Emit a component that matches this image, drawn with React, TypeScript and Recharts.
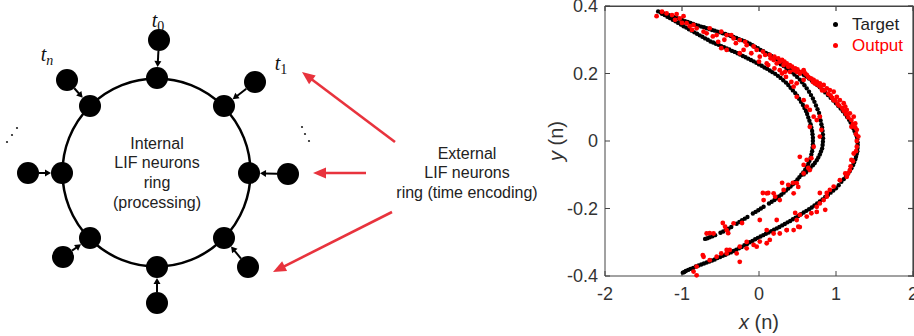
import React from 'react';
import {
  ScatterChart, Scatter, XAxis, YAxis, ReferenceLine, ReferenceDot, Label,
} from 'recharts';

// ---- left diagram (units = pixels of the diagram panel) ----
const ringCenter = [156.5, 172.5];
const ringRadius = 94;
const ringNodes = [[157, 78], [224, 106], [249, 173], [224, 238], [157, 267], [90, 238], [62, 173], [90, 106]];
const outerNodes = [[159, 40], [255, 82], [288, 174], [248, 267], [157, 303], [63, 257], [28, 173], [67, 80]];
const ellipsisDots = [[7, 142], [12, 135], [17, 128], [302, 127], [305, 134], [309, 141]];
const redArrows = [[[395, 142], [302, 72]], [[366, 173], [313, 173]], [[392, 212], [273, 272]]];

// ---- right scatter ----
const xTicks = [-2, -1, 0, 1, 2];
const yTicks = [-0.4, -0.2, 0, 0.2, 0.4];
const boxEdge = [[-2, 0.4], [2, 0.4], [2, -0.4]];

const targetOuter = [
  [-1.31, 0.384], [-1.275, 0.381], [-1.24, 0.378], [-1.205, 0.376], [-1.17, 0.373], [-1.135, 0.370], [-1.10, 0.367],
  [-1.065, 0.364], [-1.03, 0.361], [-0.995, 0.358], [-0.96, 0.355], [-0.925, 0.353], [-0.89, 0.350], [-0.855, 0.347],
  [-0.82, 0.344], [-0.785, 0.342], [-0.75, 0.339], [-0.715, 0.337], [-0.68, 0.334], [-0.645, 0.332], [-0.61, 0.329],
  [-0.575, 0.327], [-0.54, 0.324], [-0.505, 0.322], [-0.47, 0.319], [-0.435, 0.317], [-0.40, 0.314], [-0.365, 0.311],
  [-0.33, 0.308], [-0.295, 0.305], [-0.26, 0.302], [-0.225, 0.299], [-0.19, 0.296], [-0.155, 0.292], [-0.12, 0.288],
  [-0.085, 0.284], [-0.05, 0.279], [-0.015, 0.275], [0.02, 0.270], [0.055, 0.266], [0.09, 0.261], [0.125, 0.257],
  [0.16, 0.252], [0.195, 0.248], [0.23, 0.243], [0.265, 0.239], [0.30, 0.234], [0.335, 0.229], [0.37, 0.224],
  [0.405, 0.220], [0.44, 0.215], [0.475, 0.210], [0.51, 0.205], [0.545, 0.201], [0.58, 0.196], [0.615, 0.191],
  [0.65, 0.185], [0.685, 0.179], [0.72, 0.172], [0.755, 0.166], [0.79, 0.159], [0.825, 0.152], [0.86, 0.144],
  [0.895, 0.136], [0.93, 0.128], [0.965, 0.120], [1.00, 0.112], [1.03, 0.104], [1.06, 0.096], [1.09, 0.088],
  [1.12, 0.079], [1.145, 0.071], [1.17, 0.063], [1.19, 0.055], [1.21, 0.046], [1.225, 0.038], [1.24, 0.030],
  [1.255, 0.022], [1.27, 0.013], [1.275, 0.005], [1.28, -0.004], [1.282, -0.012], [1.28, -0.021], [1.277, -0.030],
  [1.27, -0.038], [1.26, -0.047], [1.25, -0.055], [1.235, -0.064], [1.22, -0.072], [1.20, -0.081], [1.18, -0.089],
  [1.155, -0.097], [1.13, -0.105], [1.10, -0.113], [1.07, -0.121], [1.035, -0.131], [1.00, -0.140], [0.965, -0.147],
  [0.93, -0.153], [0.895, -0.160], [0.86, -0.166], [0.825, -0.173], [0.79, -0.179], [0.755, -0.185], [0.72, -0.191],
  [0.685, -0.197], [0.65, -0.202], [0.615, -0.207], [0.58, -0.212], [0.545, -0.217], [0.51, -0.222], [0.475, -0.227],
  [0.44, -0.232], [0.405, -0.237], [0.37, -0.241], [0.335, -0.246], [0.30, -0.250], [0.265, -0.255], [0.23, -0.259],
  [0.195, -0.263], [0.16, -0.267], [0.125, -0.271], [0.09, -0.275], [0.055, -0.279], [0.02, -0.283], [-0.015, -0.287],
  [-0.05, -0.291], [-0.085, -0.296], [-0.12, -0.300], [-0.155, -0.305], [-0.19, -0.309], [-0.225, -0.314],
  [-0.26, -0.318], [-0.295, -0.322], [-0.33, -0.326], [-0.365, -0.330], [-0.40, -0.333], [-0.435, -0.337],
  [-0.47, -0.340], [-0.505, -0.344], [-0.54, -0.347], [-0.575, -0.351], [-0.61, -0.354], [-0.645, -0.357],
  [-0.68, -0.360], [-0.715, -0.363], [-0.75, -0.366], [-0.785, -0.369], [-0.82, -0.372], [-0.855, -0.376],
  [-0.89, -0.379], [-0.92, -0.382], [-0.95, -0.385], [-0.97, -0.388], [-0.99, -0.390],
];
const targetInnerA = [
  [-1.26, 0.377], [-1.225, 0.373], [-1.19, 0.368], [-1.155, 0.364], [-1.12, 0.359], [-1.085, 0.355], [-1.05, 0.350],
  [-1.015, 0.345], [-0.98, 0.340], [-0.945, 0.336], [-0.91, 0.331], [-0.875, 0.327], [-0.84, 0.322], [-0.805, 0.318],
  [-0.77, 0.313], [-0.735, 0.309], [-0.70, 0.304], [-0.665, 0.300], [-0.63, 0.295], [-0.595, 0.292], [-0.56, 0.288],
  [-0.525, 0.285], [-0.49, 0.281], [-0.455, 0.278], [-0.42, 0.274], [-0.385, 0.271], [-0.35, 0.267], [-0.315, 0.264],
  [-0.28, 0.260], [-0.245, 0.256], [-0.21, 0.252], [-0.175, 0.248], [-0.14, 0.244], [-0.105, 0.240], [-0.07, 0.236],
  [-0.035, 0.232], [0.00, 0.227], [0.035, 0.223], [0.07, 0.218], [0.105, 0.214], [0.14, 0.209], [0.175, 0.204],
  [0.21, 0.199], [0.245, 0.193], [0.28, 0.187], [0.315, 0.180], [0.35, 0.173], [0.38, 0.166], [0.41, 0.158],
  [0.44, 0.150], [0.47, 0.142], [0.495, 0.134], [0.52, 0.125], [0.545, 0.116], [0.57, 0.107], [0.59, 0.098],
  [0.61, 0.089], [0.625, 0.080], [0.64, 0.070], [0.655, 0.060], [0.67, 0.050], [0.68, 0.040], [0.69, 0.030],
  [0.695, 0.020], [0.70, 0.010], [0.70, 0.000], [0.70, -0.010], [0.695, -0.020], [0.69, -0.030], [0.68, -0.040],
  [0.67, -0.050], [0.655, -0.059], [0.64, -0.068], [0.62, -0.077], [0.60, -0.085], [0.575, -0.093], [0.55, -0.100],
  [0.525, -0.107], [0.50, -0.114], [0.47, -0.121], [0.44, -0.128], [0.41, -0.135], [0.38, -0.141], [0.35, -0.147],
  [0.32, -0.153], [0.29, -0.159], [0.26, -0.164], [0.23, -0.170], [0.20, -0.175], [0.165, -0.180], [0.13, -0.185],
  [0.06, -0.195], [0.025, -0.200], [-0.01, -0.205], [-0.045, -0.210], [-0.08, -0.215], [-0.15, -0.225],
  [-0.185, -0.230], [-0.22, -0.235], [-0.255, -0.240], [-0.29, -0.245], [-0.36, -0.255], [-0.395, -0.260],
  [-0.43, -0.264], [-0.465, -0.268], [-0.50, -0.272], [-0.57, -0.279], [-0.605, -0.282], [-0.64, -0.285],
  [-0.67, -0.288], [-0.70, -0.290],
];
const targetInnerB = [
  [0.25, 0.232], [0.285, 0.227], [0.32, 0.222], [0.355, 0.216], [0.39, 0.210], [0.425, 0.204], [0.46, 0.197],
  [0.495, 0.190], [0.53, 0.182], [0.56, 0.174], [0.59, 0.165], [0.62, 0.156], [0.65, 0.146], [0.675, 0.136],
  [0.70, 0.126], [0.72, 0.116], [0.74, 0.105], [0.76, 0.094], [0.78, 0.083], [0.79, 0.072], [0.80, 0.061],
  [0.81, 0.050], [0.82, 0.040], [0.825, 0.030], [0.83, 0.019], [0.832, 0.008], [0.83, -0.002], [0.826, -0.012],
  [0.82, -0.022], [0.805, -0.031], [0.79, -0.040], [0.77, -0.049], [0.75, -0.057], [0.725, -0.065], [0.70, -0.072],
  [0.67, -0.079], [0.64, -0.086], [0.61, -0.093], [0.58, -0.099],
];
const outputPts = [
  [-1.33, 0.370], [-1.26, 0.383], [-1.20, 0.378], [-1.13, 0.373], [-1.07, 0.376], [-1.03, 0.363], [-0.98, 0.370],
  [-1.09, 0.359], [-0.94, 0.349], [-0.85, 0.344], [-0.81, 0.334], [-0.87, 0.329], [-0.72, 0.324], [-0.68, 0.319],
  [-0.64, 0.334], [-0.55, 0.314], [-0.49, 0.324], [-0.42, 0.314], [-0.36, 0.314], [-0.33, 0.304], [-0.53, 0.294],
  [-0.49, 0.275], [-0.42, 0.270], [-0.25, 0.299], [-0.18, 0.294], [-0.16, 0.284], [-0.07, 0.280], [-0.03, 0.270],
  [-0.25, 0.260], [0.01, 0.250], [0.14, 0.255], [0.19, 0.240], [0.10, 0.230], [0.23, 0.230], [0.27, 0.235],
  [0.32, 0.225], [0.36, 0.230], [0.38, 0.220], [0.27, 0.210], [0.34, 0.205], [0.40, 0.205], [0.45, 0.210],
  [0.49, 0.205], [0.53, 0.200], [0.58, 0.210], [0.62, 0.196], [0.58, 0.181], [0.66, 0.186], [0.71, 0.181],
  [0.75, 0.176], [0.79, 0.171], [0.84, 0.166], [0.88, 0.156], [0.92, 0.151], [0.97, 0.146], [1.01, 0.131],
  [0.97, 0.121], [1.05, 0.121], [1.10, 0.112], [1.12, 0.102], [1.14, 0.092], [1.18, 0.082], [1.23, 0.072],
  [1.25, 0.052], [1.20, 0.042], [1.27, 0.033], [1.29, 0.013], [1.27, -0.017], [1.23, -0.037], [1.20, -0.056],
  [1.18, -0.086], [1.12, -0.096], [1.14, -0.106], [1.05, -0.116], [0.97, -0.135], [0.92, -0.145], [0.88, -0.165],
  [0.84, -0.175], [0.79, -0.185], [0.75, -0.195], [0.68, -0.214], [0.62, -0.224], [0.53, -0.219], [0.49, -0.234],
  [0.51, -0.254], [0.45, -0.264], [0.36, -0.264], [0.27, -0.274], [0.19, -0.274], [0.14, -0.293], [0.10, -0.303],
  [0.01, -0.298], [-0.03, -0.313], [-0.07, -0.308], [-0.16, -0.318], [-0.25, -0.313], [-0.29, -0.333],
  [-0.38, -0.323], [-0.42, -0.333], [-0.49, -0.333], [-0.55, -0.343], [-0.64, -0.353], [-0.81, -0.372],
  [-0.85, -0.387], [-0.81, -0.398], [-0.72, -0.343], [-0.73, -0.338], [-0.25, -0.358], [-0.42, -0.323],
  [-0.16, -0.299],
  [0.49, 0.171], [0.45, 0.161], [0.49, 0.131], [0.58, 0.121], [0.62, 0.102], [0.66, 0.092], [0.71, 0.072],
  [0.75, 0.062], [0.79, 0.072], [0.81, 0.033], [0.79, 0.013], [0.66, 0.042], [0.71, -0.017], [0.68, -0.051],
  [0.62, -0.056], [0.58, -0.071], [0.66, -0.086], [0.58, -0.096], [0.49, -0.125], [0.38, -0.130], [0.32, -0.145],
  [0.45, -0.155], [0.19, -0.155], [0.10, -0.155], [0.06, -0.175], [0.27, -0.175], [0.21, -0.165], [-0.33, -0.244],
  [-0.42, -0.264], [-0.59, -0.274], [-0.68, -0.274], [-0.44, -0.254], [-0.47, -0.243], [-0.64, -0.273],
  [-0.40, -0.273], [-0.22, -0.243], [0.05, -0.154], [0.12, -0.154], [0.30, -0.124], [0.44, -0.124], [0.51, -0.136],
  [0.01, -0.234], [0.23, -0.234], [0.53, -0.255], [0.47, -0.213], [0.75, -0.210], [0.86, -0.204], [0.88, -0.154],
  [0.79, -0.154], [0.10, -0.264], [0.36, -0.264], [0.53, -0.047], [0.64, -0.080],
  [0.05, 0.265], [0.08, 0.255], [0.15, 0.245], [0.20, 0.250], [0.25, 0.245], [0.30, 0.240], [0.33, 0.235],
  [0.40, 0.225], [0.43, 0.220], [0.47, 0.215], [0.50, 0.212], [0.55, 0.205], [0.60, 0.200], [0.64, 0.190],
  [0.68, 0.185], [0.70, 0.175], [0.73, 0.170], [0.77, 0.165], [0.80, 0.160], [0.82, 0.150], [0.85, 0.150],
  [0.90, 0.140], [0.93, 0.135], [0.95, 0.128], [0.99, 0.120], [1.02, 0.110], [1.04, 0.105], [1.08, 0.098],
  [1.10, 0.090], [1.13, 0.080], [1.16, 0.070], [1.20, 0.062], [1.22, 0.050], [1.25, 0.040], [1.26, 0.020],
  [1.27, 0.000], [1.26, -0.030], [1.22, -0.060], [1.19, -0.075], [1.16, -0.095],
  [-1.00, 0.350], [-0.90, 0.340], [-0.60, 0.310], [-0.45, 0.300], [-0.30, 0.290], [-0.20, 0.270], [-0.10, 0.260],
  [0.00, 0.235], [0.12, 0.225], [0.20, 0.215], [0.30, 0.200], [0.35, 0.190], [0.42, 0.175],
];

const toXY = (arr: number[][]) => arr.map(([x, y]) => ({ x, y }));
const targetData = toXY([...targetOuter, ...targetInnerA, ...targetInnerB]);
const outputData = toXY(outputPts);

const sans = '"Liberation Sans", Arial, Helvetica, sans-serif';
const serif = '"Liberation Serif", "Times New Roman", serif';
const RED_ARROW = '#e8333d';
const AXIS = '#444';
// inward tick length, in data units (about 5px)
const TICK_DX = 0.065;
const TICK_DY = 0.015;

const dot = (r: number, fill: string) => (p: any) => <circle cx={p.cx} cy={p.cy} r={r} fill={fill} />;
const noMark = () => <g />;

const arrowShape = (color: string, w: number, headLen: number, headW: number, trimStart: number, trimEnd: number) =>
  (p: any) => {
    const { x1, y1, x2, y2 } = p;
    const dx = x2 - x1, dy = y2 - y1;
    const len = Math.hypot(dx, dy) || 1;
    const ux = dx / len, uy = dy / len;
    const sx = x1 + ux * trimStart, sy = y1 + uy * trimStart;
    const ex = x2 - ux * trimEnd, ey = y2 - uy * trimEnd;
    const bx = ex - ux * headLen, by = ey - uy * headLen;
    const nx = -uy * headW / 2, ny = ux * headW / 2;
    return (
      <g>
        <line x1={sx} y1={sy} x2={bx + ux} y2={by + uy} stroke={color} strokeWidth={w} />
        <polygon points={`${ex},${ey} ${bx + nx},${by + ny} ${bx - nx},${by - ny}`} fill={color} />
      </g>
    );
  };

const Diagram = () => (
  <ScatterChart width={540} height={336} margin={{ top: 0, right: 0, bottom: 0, left: 0 }}>
    <XAxis type="number" dataKey="x" domain={[0, 540]} hide />
    <YAxis type="number" dataKey="y" domain={[0, 336]} reversed hide />
    <ReferenceDot x={ringCenter[0]} y={ringCenter[1]} r={ringRadius} fill="none" stroke="#000" strokeWidth={2.5} />
    {outerNodes.map((o, i) => (
      <ReferenceLine key={'b' + i} segment={[{ x: o[0], y: o[1] }, { x: ringNodes[i][0], y: ringNodes[i][1] }]}
        shape={arrowShape('#000', 2, 6, 7, 11, 11)} />
    ))}
    {redArrows.map((a, i) => (
      <ReferenceLine key={'r' + i} segment={[{ x: a[0][0], y: a[0][1] }, { x: a[1][0], y: a[1][1] }]}
        shape={arrowShape(RED_ARROW, 2.6, 13, 11, 0, 0)} />
    ))}
    <Scatter data={toXY([...ringNodes, ...outerNodes])} shape={dot(11, '#000')} isAnimationActive={false} />
    <Scatter data={toXY(ellipsisDots)} shape={dot(1.1, '#222')} isAnimationActive={false} />
  </ScatterChart>
);

const axisLabel = (name: string, rotate: boolean) => (props: any) => {
  const vb = props.viewBox || {};
  const cx = rotate ? vb.x + 11 : vb.x + vb.width / 2;
  const cy = rotate ? vb.y + vb.height / 2 : vb.y + 46;
  return (
    <text x={cx} y={cy} textAnchor="middle" dominantBaseline="central" fill="#333" fontSize={20}
      fontFamily={sans} transform={rotate ? `rotate(-90, ${cx}, ${cy})` : undefined}>
      <tspan fontStyle="italic">{name}</tspan>
      <tspan> (n)</tspan>
    </text>
  );
};

const edgeLine = { stroke: AXIS, strokeWidth: 1.2 };

const Plot = () => (
  <ScatterChart width={369} height={336} margin={{ top: 6, right: 1, bottom: 0, left: 0 }} style={{ fontFamily: sans }}>
    <XAxis type="number" dataKey="x" domain={[-2, 2]} ticks={xTicks} interval={0}
      tickSize={-5} tickMargin={16} height={60} stroke={AXIS} tick={{ fill: '#333', fontSize: 18 }}>
      <Label content={axisLabel('x', false)} />
    </XAxis>
    <YAxis type="number" dataKey="y" domain={[-0.4, 0.4]} ticks={yTicks} interval={0}
      tickSize={-5} tickMargin={12} width={60} stroke={AXIS} tick={{ fill: '#333', fontSize: 18 }}>
      <Label content={axisLabel('y', true)} />
    </YAxis>
    {/* box: top and right edges with inward ticks */}
    <Scatter data={toXY(boxEdge)} line={edgeLine} shape={noMark} isAnimationActive={false} />
    {xTicks.map((t) => (
      <Scatter key={'tx' + t} data={toXY([[t, 0.4], [t, 0.4 - TICK_DY]])} line={edgeLine} shape={noMark}
        isAnimationActive={false} />
    ))}
    {yTicks.map((t) => (
      <Scatter key={'ty' + t} data={toXY([[2, t], [2 - TICK_DX, t]])} line={edgeLine} shape={noMark}
        isAnimationActive={false} />
    ))}
    <Scatter name="Target" data={targetData} shape={dot(2.2, '#000')} isAnimationActive={false} />
    <Scatter name="Output" data={outputData} shape={dot(2.4, '#ff0000')} isAnimationActive={false} />
  </ScatterChart>
);

const center: React.CSSProperties = { position: 'absolute', transform: 'translate(-50%, -50%)', whiteSpace: 'nowrap' };

const TLabel = ({ x, y, sub }: { x: number; y: number; sub: string }) => (
  <div style={{ ...center, left: x, top: y, fontFamily: serif, fontSize: 20, color: '#111' }}>
    <i>t</i><span style={{ fontSize: 14, verticalAlign: '-4px' }}>{sub}</span>
  </div>
);

export default function App() {
  return (
    <div style={{ position: 'absolute', left: 0, top: 0, width: 914, height: 336, background: '#fff', overflow: 'hidden' }}>
      <div style={{ position: 'absolute', left: 0, top: 0 }}><Diagram /></div>
      <div style={{ position: 'absolute', left: 545, top: 0 }}><Plot /></div>
      {/* plot frame (top / right edge), drawn over the chart box */}
      <div style={{
        position: 'absolute', left: 605, top: 6, width: 309, height: 271, boxSizing: 'border-box',
        borderTop: `1px solid ${AXIS}`, borderRight: `1px solid ${AXIS}`, pointerEvents: 'none',
      }} />

      <TLabel x={158} y={22} sub="0" />
      <TLabel x={281} y={65} sub="1" />
      <div style={{ ...center, left: 47, top: 56, fontFamily: serif, fontSize: 20, color: '#111' }}>
        <i>t</i><i style={{ fontSize: 14, verticalAlign: '-4px' }}>n</i>
      </div>

      <div style={{ ...center, left: 157, top: 172.5, textAlign: 'center', fontFamily: sans, fontSize: 16, lineHeight: '19.7px', color: '#222' }}>
        Internal<br />LIF neurons<br />ring<br />(processing)
      </div>
      <div style={{ ...center, left: 467, top: 172.5, textAlign: 'center', fontFamily: sans, fontSize: 16, lineHeight: '19.5px', color: '#222' }}>
        External<br />LIF neurons<br />ring (time encoding)
      </div>

      <div style={{ position: 'absolute', left: 833, top: 14, fontFamily: sans, fontSize: 17, lineHeight: '21px' }}>
        <div style={{ display: 'flex', alignItems: 'center', color: '#222' }}>
          <span style={{ width: 5, height: 5, borderRadius: '50%', background: '#000', marginRight: 14 }} />Target
        </div>
        <div style={{ display: 'flex', alignItems: 'center', color: '#ff0000' }}>
          <span style={{ width: 5, height: 5, borderRadius: '50%', background: '#ff0000', marginRight: 14 }} />Output
        </div>
      </div>
    </div>
  );
}
